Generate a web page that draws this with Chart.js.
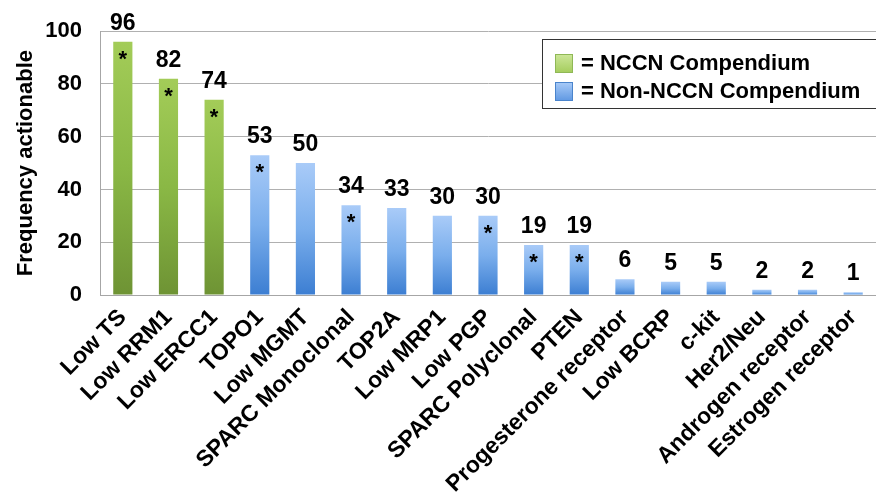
<!DOCTYPE html>
<html>
<head>
<meta charset="utf-8">
<script src="https://cdn.jsdelivr.net/npm/chart.js@4"></script>
<style>
  html, body { margin: 0; padding: 0; background: #ffffff; }
  #wrap { position: relative; width: 876px; height: 504px; }
</style>
</head>
<body>
<div id="wrap"><canvas id="chart"></canvas></div>
<script>
// Biomarkers and how often each was actionable
const categories = ['Low TS', 'Low RRM1', 'Low ERCC1', 'TOPO1', 'Low MGMT', 'SPARC Monoclonal',
  'TOP2A', 'Low MRP1', 'Low PGP', 'SPARC Polyclonal', 'PTEN', 'Progesterone receptor',
  'Low BCRP', 'c-kit', 'Her2/Neu', 'Androgen receptor', 'Estrogen receptor'];
const frequency = [96, 82, 74, 53, 50, 34, 33, 30, 30, 19, 19, 6, 5, 5, 2, 2, 1];
// true = listed in the NCCN Compendium
const inCompendium = [true, true, true, false, false, false, false, false, false, false, false,
  false, false, false, false, false, false];
// bars flagged with an asterisk
const starred = [true, true, true, true, false, true, false, false, true, true, true,
  false, false, false, false, false, false];
const legendLabels = ['= NCCN Compendium', '= Non-NCCN Compendium'];
const yTicks = [0, 20, 40, 60, 80, 100];

const FONT = '"Liberation Sans", Arial, Helvetica, sans-serif';
const greenStops = ['#a3cc58', '#8ab845', '#6e9334'];
const blueStops = ['#a9cbf8', '#7aaeec', '#3c7ed2'];

function barGradient(context) {
  const chart = context.chart;
  const area = chart.chartArea;
  if (!area) return inCompendium[context.dataIndex] ? greenStops[1] : blueStops[1];
  const y = chart.scales.y;
  const top = y.getPixelForValue(context.raw);
  const bottom = y.getPixelForValue(0);
  const stops = inCompendium[context.dataIndex] ? greenStops : blueStops;
  const g = chart.ctx.createLinearGradient(0, top, 0, Math.max(bottom, top + 1));
  g.addColorStop(0, stops[0]);
  g.addColorStop(0.5, stops[1]);
  g.addColorStop(1, stops[2]);
  return g;
}

// Value labels above bars and asterisks inside flagged bars
const barAnnotations = {
  id: 'barAnnotations',
  afterDatasetsDraw(chart) {
    const ctx = chart.ctx;
    const meta = chart.getDatasetMeta(0);
    ctx.save();
    ctx.fillStyle = '#000000';
    ctx.textAlign = 'center';
    meta.data.forEach((bar, i) => {
      ctx.font = 'bold 23px ' + FONT;
      ctx.textBaseline = 'alphabetic';
      ctx.fillText(String(frequency[i]), bar.x, bar.y - 12);
      if (starred[i]) {
        ctx.font = 'bold 22px ' + FONT;
        ctx.fillText('*', bar.x, bar.y + 24);
      }
    });
    ctx.restore();
  }
};

// Boxed legend in the upper right of the plot
const boxLegend = {
  id: 'boxLegend',
  afterDraw(chart) {
    const ctx = chart.ctx;
    const x0 = 542.5, y0 = 39.5, x1 = 900, y1 = 108.5;
    ctx.save();
    ctx.fillStyle = '#ffffff';
    ctx.fillRect(x0, y0, x1 - x0, y1 - y0);
    ctx.strokeStyle = '#333333';
    ctx.lineWidth = 1;
    ctx.strokeRect(x0, y0, x1 - x0, y1 - y0);
    const rows = [
      { stops: ['#cde79a', '#a4cc5c'], edge: '#8fb856', y: 54 },
      { stops: ['#a9cbf8', '#5f98e2'], edge: '#4a84cc', y: 82 }
    ];
    rows.forEach((r, i) => {
      const g = ctx.createLinearGradient(0, r.y, 0, r.y + 19);
      g.addColorStop(0, r.stops[0]);
      g.addColorStop(1, r.stops[1]);
      ctx.fillStyle = g;
      ctx.fillRect(555, r.y, 18, 19);
      ctx.strokeStyle = r.edge;
      ctx.strokeRect(555.5, r.y + 0.5, 17, 18);
      ctx.fillStyle = '#000000';
      ctx.font = 'bold 22px ' + FONT;
      ctx.textAlign = 'left';
      ctx.textBaseline = 'middle';
      ctx.fillText(legendLabels[i], 581, r.y + 10);
    });
    ctx.restore();
  }
};

new Chart(document.getElementById('chart'), {
  type: 'bar',
  data: {
    labels: categories,
    datasets: [{
      label: 'Frequency actionable',
      data: frequency,
      backgroundColor: barGradient,
      borderWidth: 0,
      barPercentage: 0.42,
      categoryPercentage: 1.0
    }]
  },
  options: {
    responsive: true,
    maintainAspectRatio: false,
    animation: false,
    layout: { padding: { top: 28, right: -3, left: 0, bottom: 0 } },
    plugins: {
      legend: { display: false },
      tooltip: { enabled: false }
    },
    scales: {
      x: {
        grid: { display: false, drawTicks: false },
        border: { display: true, color: '#a6a6a6', width: 1 },
        ticks: {
          color: '#000000',
          font: { family: FONT, size: 23, weight: 'bold' },
          maxRotation: 45,
          minRotation: 45,
          autoSkip: false,
          padding: 9
        },
        afterFit(scale) {
          scale.height = 209;
          scale.paddingLeft = 0;
          scale.paddingRight = 0;
        }
      },
      y: {
        min: 0,
        max: 100,
        afterBuildTicks(scale) { scale.ticks = yTicks.map(v => ({ value: v })); },
        grid: { color: '#b0b0b0', lineWidth: 1, drawTicks: false },
        border: { display: true, color: '#a6a6a6', width: 1 },
        ticks: {
          color: '#000000',
          font: { family: FONT, size: 22, weight: 'bold' },
          padding: 18
        },
        title: {
          display: true,
          text: 'Frequency actionable',
          color: '#000000',
          font: { family: FONT, size: 22, weight: 'bold' },
          padding: { top: 13, bottom: 0 }
        },
        afterFit(scale) { scale.width = 100; }
      }
    }
  },
  plugins: [barAnnotations, boxLegend]
});
</script>
</body>
</html>
